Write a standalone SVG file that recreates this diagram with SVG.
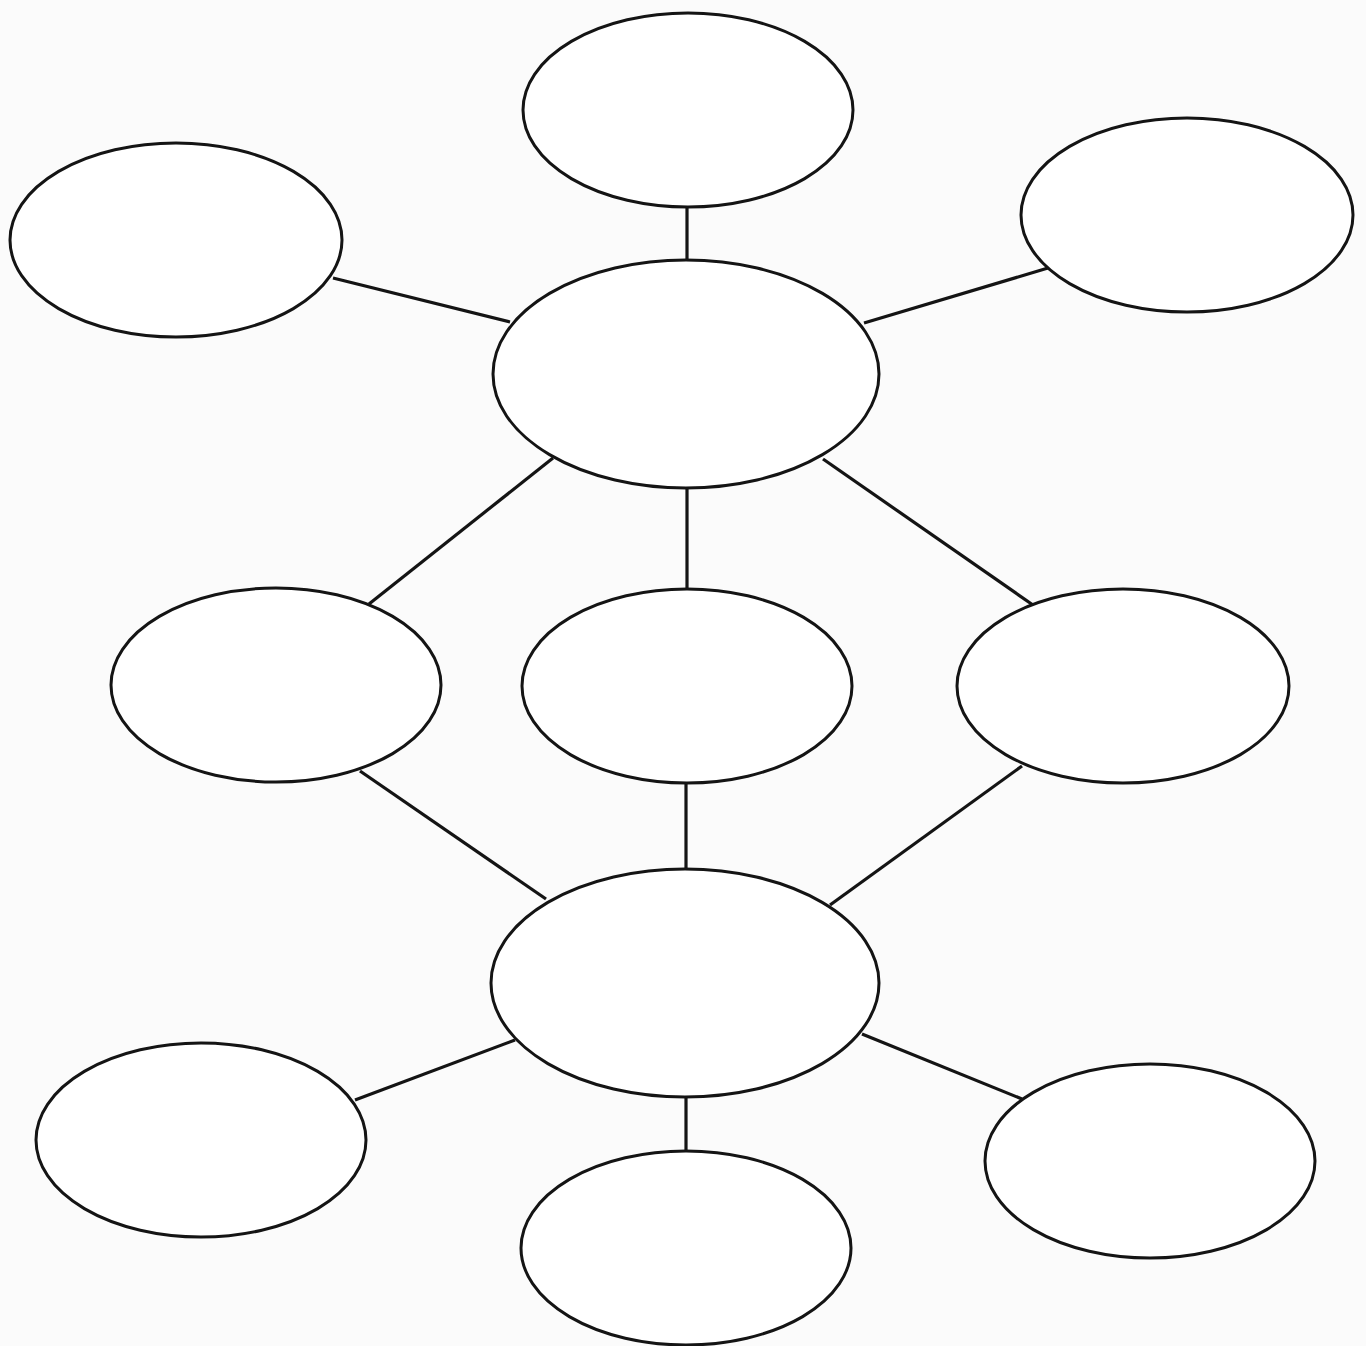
<svg xmlns="http://www.w3.org/2000/svg" width="1366" height="1346" viewBox="0 0 1366 1346">
<style>
.n{fill:#fff;stroke:#141414;stroke-width:3}
.c line{stroke:#141414;stroke-width:3.2}
</style>
<rect width="1366" height="1346" fill="#fbfbfb"/>
<g class="c" id="connectors">
<line x1="687" y1="205" x2="687" y2="262"/>
<line x1="333" y1="278" x2="510" y2="322"/>
<line x1="864" y1="323" x2="1048" y2="268"/>
<line x1="553" y1="458" x2="369" y2="604"/>
<line x1="687" y1="486" x2="687" y2="591"/>
<line x1="823" y1="459" x2="1033" y2="605"/>
<line x1="360" y1="771" x2="546" y2="899"/>
<line x1="686" y1="782" x2="686" y2="872"/>
<line x1="1022" y1="766" x2="830" y2="905"/>
<line x1="515" y1="1040" x2="355" y2="1100"/>
<line x1="686" y1="1095" x2="686" y2="1154"/>
<line x1="862" y1="1034" x2="1022" y2="1099"/>
</g>
<g id="n-top"><ellipse class="n" cx="688" cy="110" rx="165" ry="97"/></g>
<g id="n-topleft"><ellipse class="n" cx="176" cy="240" rx="166" ry="97"/></g>
<g id="n-topright"><ellipse class="n" cx="1187" cy="215" rx="166" ry="97"/></g>
<g id="n-hub1"><ellipse class="n" cx="686" cy="374" rx="193" ry="114"/></g>
<g id="n-midleft"><ellipse class="n" cx="276" cy="685" rx="165" ry="97"/></g>
<g id="n-midcenter"><ellipse class="n" cx="687" cy="686" rx="165" ry="97"/></g>
<g id="n-midright"><ellipse class="n" cx="1123" cy="686" rx="166" ry="97"/></g>
<g id="n-hub2"><ellipse class="n" cx="685" cy="983" rx="194" ry="114"/></g>
<g id="n-botleft"><ellipse class="n" cx="201" cy="1140" rx="165" ry="97"/></g>
<g id="n-botcenter"><ellipse class="n" cx="686" cy="1248" rx="165" ry="97"/></g>
<g id="n-botright"><ellipse class="n" cx="1150" cy="1161" rx="165" ry="97"/></g>
</svg>
